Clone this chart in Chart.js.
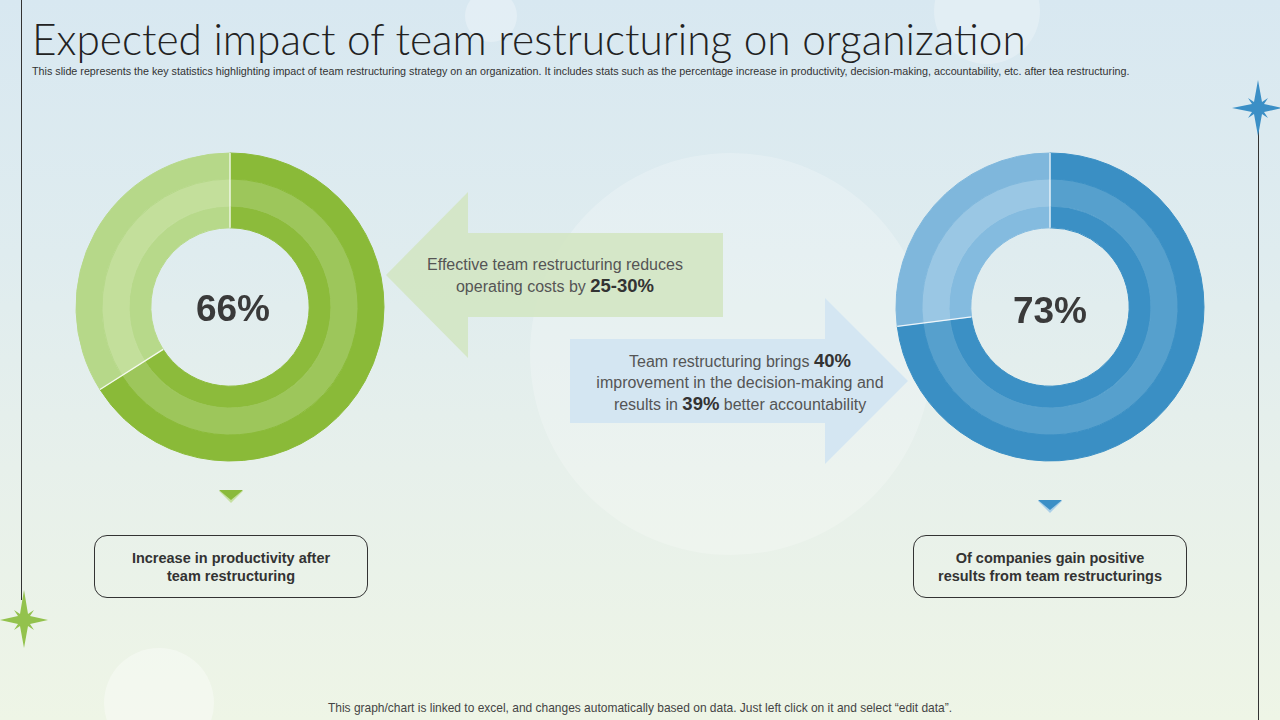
<!DOCTYPE html>
<html>
<head>
<meta charset="utf-8">
<script src="https://cdn.jsdelivr.net/npm/chart.js@4.4.1/dist/chart.umd.min.js"></script>
<style>
  html, body { margin:0; padding:0; }
  body { width:1280px; height:720px; overflow:hidden; position:relative;
    background: linear-gradient(180deg, #d8e8f1 0%, #dfecef 35%, #e7f0eb 65%, #eef5e6 100%);
    font-family: "Liberation Sans", Arial, sans-serif; }
  .abs { position:absolute; }
  .circle { position:absolute; border-radius:50%; background:rgba(255,255,255,0.22); }
  #title { left:32px; top:14px; font-family:"Lato","Open Sans",sans-serif; font-weight:300; color:#222; white-space:nowrap; font-size:38px; line-height:50px; }
  #subtitle { left:32px; top:65px; font-size:10.5px; color:#333; white-space:nowrap; line-height:13px; }
  #footer { top:701px; font-size:12px; color:#444; white-space:nowrap; line-height:14px; }
  .arrow { position:absolute; }
  .atext { position:absolute; text-align:center; font-size:16px; color:#555; line-height:21px; white-space:nowrap; }
  .atext b { font-size:18.5px; color:#333; }
  .box { position:absolute; width:274px; height:63px; border:1px solid #333; border-radius:13px; box-sizing:border-box;
    display:flex; align-items:center; justify-content:center; text-align:center; font-weight:bold; font-size:14.5px; color:#333; line-height:18px; }
  .center { position:absolute; font-weight:bold; font-size:37px; color:#3a3a3a; text-align:center; width:200px; line-height:40px; }
  .chartbox { position:absolute; width:320px; height:320px; }
</style>
</head>
<body>
<div class="circle" style="left:530px;top:153px;width:402px;height:402px;"></div>
<div class="circle" style="left:465px;top:-10px;width:52px;height:52px;background:rgba(255,255,255,0.28)"></div>
<div class="circle" style="left:934px;top:-42px;width:106px;height:106px;background:rgba(255,255,255,0.25)"></div>
<div class="circle" style="left:104px;top:648px;width:110px;height:110px;background:rgba(255,255,255,0.35)"></div>

<div class="abs" style="left:21px;top:0;width:1px;height:600px;background:#333;"></div>
<div class="abs" style="left:1258px;top:115px;width:1px;height:605px;background:#333;"></div>

<svg class="abs" style="left:0;top:590px" width="48" height="60" viewBox="-24 -30 48 60">
  <path d="M0,-30 L4,-6 L10,-10 L6,-4 L24,0 L6,4 L10,10 L4,6 L0,28 L-4,6 L-10,10 L-6,4 L-24,0 L-6,-4 L-10,-10 L-4,-6 Z" fill="#93c24d"/>
</svg>
<svg class="abs" style="left:1232px;top:80px" width="50" height="58" viewBox="-26 -28 50 58">
  <path d="M0,-28 L4,-6 L10,-10 L6,-4 L24,0 L6,4 L10,10 L4,6 L0,28 L-4,6 L-10,10 L-6,4 L-26,0 L-6,-4 L-10,-10 L-4,-6 Z" fill="#3b8fc6"/>
</svg>

<div id="title" class="abs">Expected impact of team restructuring on organization</div>
<div id="subtitle" class="abs">This slide represents the key statistics highlighting impact of team restructuring strategy on an organization. It includes stats such as the percentage increase in productivity, decision-making, accountability, etc. after tea restructuring.</div>

<svg class="arrow" style="left:386px;top:192px" width="338" height="167">
  <polygon points="0,83 82,0 82,41 337,41 337,125 82,125 82,166" fill="#d3e5c3" fill-opacity="0.9"/>
</svg>
<svg class="arrow" style="left:570px;top:298px" width="339" height="167">
  <polygon points="0,41 255,41 255,0 338,83 255,166 255,125 0,125" fill="#d3e5f1" fill-opacity="0.95"/>
</svg>
<div class="atext" style="left:405px;top:254px;width:300px;">Effective team restructuring reduces<br>operating costs by <b>25-30%</b></div>
<div class="atext" style="left:580px;top:350px;width:320px;">Team restructuring brings <b>40%</b><br>improvement in the decision-making and<br>results in <b>39%</b> better accountability</div>

<div class="chartbox" style="left:70px;top:147px;"><canvas id="c1"></canvas></div>
<div class="chartbox" style="left:890px;top:147px;"><canvas id="c2"></canvas></div>
<div class="center" id="v1" style="left:133px;top:289px;"></div>
<div class="center" id="v2" style="left:950px;top:291px;"></div>

<svg class="abs" style="left:218px;top:490px" width="26" height="14">
  <polygon points="1,1 25,1 13,13" fill="#c5e0a0"/>
  <polygon points="1,0 25,0 13,10" fill="#8aba3a"/>
</svg>
<svg class="abs" style="left:1037px;top:500px" width="26" height="14">
  <polygon points="1,1 25,1 13,13" fill="#a9cfe8"/>
  <polygon points="1,0 25,0 13,10" fill="#3b8fc6"/>
</svg>

<div class="box" style="left:94px;top:535px;" id="b1"></div>
<div class="box" style="left:913px;top:535px;" id="b2"></div>

<div id="footer" class="abs">This graph/chart is linked to excel, and changes automatically based on data. Just left click on it and select “edit data”.</div>

<script>
// ---- data ----
const segmentLabels = ["Achieved", "Remaining"];
const productivityValues = [66, 34];
const companiesValues = [73, 27];
const centerLabels = ["66%", "73%"];
const boxLabels = ["Increase in productivity after<br>team restructuring", "Of companies gain positive<br>results from team restructurings"];

// ---- palettes (outer, middle, inner ring) ----
const greenRings = [["#8aba38", "#b6d889"], ["#9dc65b", "#c3df9b"], ["#8cbb3b", "#b7d98a"]];
const blueRings  = [["#3a8fc4", "#7fb7dc"], ["#56a0cd", "#9ac7e4"], ["#3b90c5", "#84bbdf"]];
const ringWeights = [25, 26, 21];

// thin white separators at segment boundaries, from the library's arc geometry
const separators = {
  id: 'separators',
  afterDatasetsDraw(chart) {
    const n = chart.data.datasets.length;
    const outer = chart.getDatasetMeta(0).data;
    const inner = chart.getDatasetMeta(n - 1).data;
    const ctx = chart.ctx;
    ctx.save();
    ctx.strokeStyle = 'rgba(255,255,255,0.85)';
    ctx.lineWidth = 1.3;
    outer.forEach((arc, i) => {
      const a = arc.startAngle;
      const r0 = inner[i].innerRadius, r1 = arc.outerRadius;
      ctx.beginPath();
      ctx.moveTo(arc.x + Math.cos(a) * r0, arc.y + Math.sin(a) * r0);
      ctx.lineTo(arc.x + Math.cos(a) * r1, arc.y + Math.sin(a) * r1);
      ctx.stroke();
    });
    ctx.restore();
  }
};

function makeDoughnut(id, values, rings) {
  new Chart(document.getElementById(id), {
    type: 'doughnut',
    data: {
      labels: segmentLabels,
      datasets: rings.map((r, i) => ({ data: values, backgroundColor: r, borderColor: r, borderWidth: 1, weight: ringWeights[i] }))
    },
    options: {
      responsive: true, maintainAspectRatio: false, animation: false,
      radius: 154, cutout: 82, rotation: 0,
      layout: { padding: 0 },
      plugins: { legend: { display: false }, tooltip: { enabled: false } },
      events: []
    },
    plugins: [separators]
  });
}
makeDoughnut('c1', productivityValues, greenRings);
makeDoughnut('c2', companiesValues, blueRings);
document.getElementById('v1').textContent = centerLabels[0];
document.getElementById('v2').textContent = centerLabels[1];
document.getElementById('b1').innerHTML = boxLabels[0];
document.getElementById('b2').innerHTML = boxLabels[1];

// fit text widths to reference
function fit(id, w) {
  const el = document.getElementById(id);
  const cur = el.getBoundingClientRect().width;
  const fs = parseFloat(getComputedStyle(el).fontSize);
  el.style.fontSize = (fs * w / cur) + 'px';
}
fit('title', 994);
fit('subtitle', 1099);
fit('footer', 625);
const f = document.getElementById('footer');
f.style.left = (640 - f.getBoundingClientRect().width / 2) + 'px';
</script>
</body>
</html>
